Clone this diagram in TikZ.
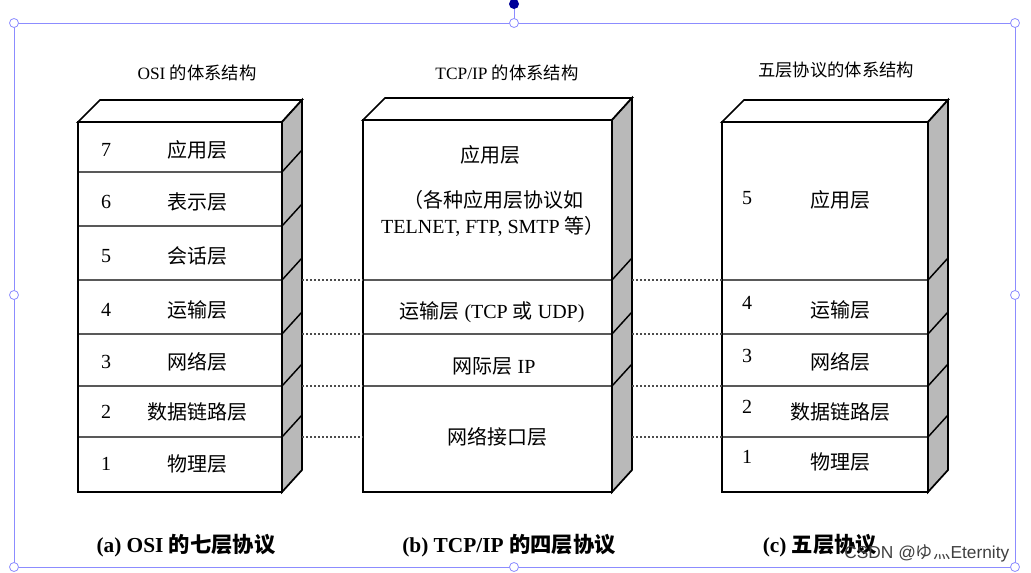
\documentclass[tikz,border=0pt]{standalone}
\usepackage{fontspec}
\setmainfont{Liberation Serif}
\newfontfamily\cjk{Noto Sans CJK SC}
\newfontfamily\lsans{Liberation Sans}
\begin{document}
\begin{tikzpicture}[x=0.75pt,y=-0.75pt,
  face/.style={draw=black,line width=1.3pt,fill=white},
  side/.style={draw=black,line width=1.3pt,fill=gray!55},
  lay/.style={draw=black,line width=1.1pt},
  dots/.style={draw=black!70,line width=0.8pt,dash pattern=on 1.5pt off 1.5pt},
  lbl/.style={font=\fontsize{15}{17}\selectfont},
  ttl/.style={font=\fontsize{13}{15}\selectfont},
  captext/.style={font=\fontsize{16}{19}\selectfont\bfseries},
  frm/.style={draw=blue!45,line width=0.6pt},
  hdl/.style={draw=blue!45,fill=white,line width=0.6pt}]
\useasboundingbox (0,0) rectangle (1031,573);
\fill[white] (0,0) rectangle (1031,573);
\foreach \L/\R/\T/\lines in {78/282/122/{172,226,280,334,386,437}, 363/612/120/{280,334,386}, 722/928/122/{280,334,386,437}}{
  \path[face] (\L,\T) -- (\L+22,\T-22) -- (\R+20,\T-22) -- (\R,\T) -- cycle;
  \path[side] (\R,\T) -- (\R+20,\T-22) -- (\R+20,470) -- (\R,492) -- cycle;
  \path[face] (\L,\T) rectangle (\R,492);
  \foreach \y in \lines { \draw[lay] (\L,\y) -- (\R,\y) -- (\R+20,\y-22); }
}
\foreach \y in {280,334,386,437}{
  \draw[dots] (302,\y) -- (363,\y);
  \draw[dots] (632,\y) -- (722,\y);
}
\node[ttl] (t1) at (197,73) {OSI {\cjk 的体系结构}};
\node[ttl] (t2) at (507,73) {TCP/IP {\cjk 的体系结构}};
\node[ttl] (t3) at (836,70) {\cjk 五层协议的体系结构};
\foreach \n/\y/\t in {7/150/应用层,6/202/表示层,5/256/会话层,4/310/运输层,3/362/网络层,2/412/数据链路层,1/464/物理层}{
  \node[lbl] (an\n) at (106,\y) {\n};
  \node[lbl] (at\n) at (197,\y) {\cjk \t};
}
\node[lbl] (b1) at (490,155) {\cjk 应用层};
\node[lbl] (b2) at (493,200) {{\cjk （各种应用层协议如}};
\node[lbl] (b3) at (493,226) {TELNET, FTP, SMTP {\cjk 等）}};
\node[lbl] (b4) at (492,312) {{\cjk 运输层} (TCP {\cjk 或} UDP)};
\node[lbl] (b5) at (494,366) {{\cjk 网际层} IP};
\node[lbl] (b6) at (497,437) {\cjk 网络接口层};
\foreach \n/\y/\t/\ny in {5/200/应用层/198,4/310/运输层/303,3/362/网络层/356,2/412/数据链路层/407,1/462/物理层/457}{
  \node[lbl] (cn\n) at (747,\ny) {\n};
  \node[lbl] (ct\n) at (840,\y) {\cjk \t};
}
\node[captext] (c1) at (186,546) {(a) OSI {\cjk 的七层协议}};
\node[captext] (c2) at (509,546) {(b) TCP/IP {\cjk 的四层协议}};
\node[captext] (c3) at (820,546) {(c) {\cjk 五层协议}};
\draw[frm] (14,23) rectangle (1015,567);
\draw[frm] (514,6) -- (514,23);
\foreach \x/\y in {14/23,514/23,1015/23,14/295,1015/295,14/567,514/567,1015/567}{
  \draw[hdl] (\x,\y) circle (4.5);
}
\fill[blue!60!black] (514,4) circle (5);
\node[font=\lsans\fontsize{13}{15}\selectfont,text=black!75,anchor=east] (wm) at (1014,553) {CSDN @{\cjk ゆ灬}Eternity};
\end{tikzpicture}
\end{document}
